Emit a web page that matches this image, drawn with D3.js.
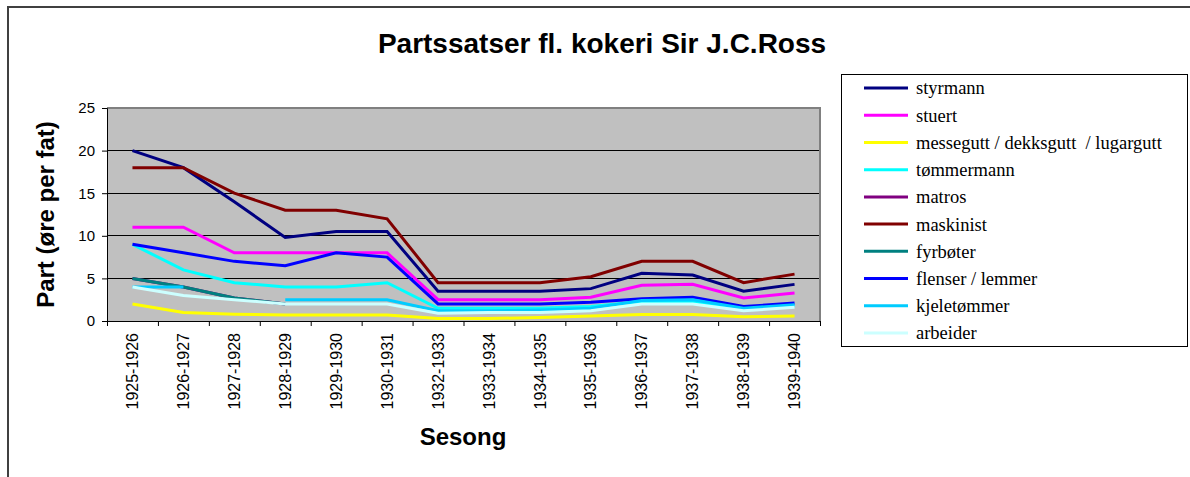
<!DOCTYPE html>
<html><head><meta charset="utf-8">
<script src="https://cdn.jsdelivr.net/npm/d3@7/dist/d3.min.js"></script>
<style>
html,body{margin:0;padding:0;background:#fff;}
svg{display:block;}
</style></head>
<body>
<svg id="chart" width="1190" height="477"></svg>
<script>
const categories = ["1925-1926","1926-1927","1927-1928","1928-1929","1929-1930","1930-1931","1932-1933","1933-1934","1934-1935","1935-1936","1936-1937","1937-1938","1938-1939","1939-1940"];
const yTicks = [0,5,10,15,20,25];
const seriesNames = ["styrmann","stuert","messegutt / dekksgutt  / lugargutt","tømmermann","matros","maskinist","fyrbøter","flenser / lemmer","kjeletømmer","arbeider"];
const styrmann    = [20,18,14,9.8,10.5,10.5,3.5,3.5,3.5,3.8,5.6,5.4,3.5,4.3];
const stuert      = [11,11,8,8,8,8,2.5,2.5,2.5,2.8,4.2,4.3,2.7,3.3];
const messegutt   = [2,1,0.8,0.7,0.7,0.7,0.3,0.3,0.4,0.6,0.75,0.75,0.5,0.6];
const tommermann  = [9,6,4.5,4,4,4.5,1.5,1.5,1.5,1.7,2.3,2.3,1.4,1.8];
const matros      = [5,4,2.7,2,null,null,null,null,null,null,null,null,null,null];
const maskinist   = [18,18,15,13,13,12,4.5,4.5,4.5,5.2,7,7,4.5,5.5];
const fyrboter    = [5,4,2.7,2,null,null,null,null,null,null,null,null,null,null];
const flenser     = [9,8,7,6.5,8,7.5,2,2,2,2.2,2.6,2.8,1.7,2.1];
const kjeletommer = [4,4,null,2.5,2.5,2.5,1.2,1.2,1.3,1.5,2.4,2.5,1.5,1.9];
const arbeider    = [4,3,2.5,2,2,2,0.9,1.0,1.0,1.2,2.0,2.0,1.2,1.6];
const seriesValues = [styrmann,stuert,messegutt,tommermann,matros,maskinist,fyrboter,flenser,kjeletommer,arbeider];
const seriesColors = ["#000080","#FF00FF","#FFFF00","#00FFFF","#800080","#800000","#008080","#0000FF","#00CCFF","#CCFFFF"];

const svg = d3.select("#chart");
const W = 1190, H = 477;
const plot = {left:107, right:820, top:108, bottom:321};
const sans = "Liberation Sans, Arial, sans-serif";

// outer frame
svg.append("path").attr("d", `M8,${H+2} L8,7 L${W+2},7`).attr("fill","none").attr("stroke","#404040").attr("stroke-width",2);

// title
svg.append("text").attr("x", 602).attr("y", 53).attr("text-anchor","middle")
  .style("font-family",sans).style("font-weight","bold").style("font-size","28px")
  .text("Partssatser fl. kokeri Sir J.C.Ross");

const x = d3.scaleBand().domain(categories).range([plot.left, plot.right]);
const xi = d3.scaleLinear().domain([0, categories.length]).range([plot.left, plot.right]);
const y = d3.scaleLinear().domain([0,25]).range([plot.bottom, plot.top]);

// plot background
svg.append("rect").attr("x", plot.left).attr("y", plot.top).attr("width", plot.right-plot.left).attr("height", plot.bottom-plot.top)
  .attr("fill","#C0C0C0");

// gridlines
svg.append("g").selectAll("line").data(yTicks.filter(d=>d>0 && d<25)).join("line")
  .attr("x1", plot.left).attr("x2", plot.right).attr("y1", d=>y(d)).attr("y2", d=>y(d))
  .attr("stroke","#000").attr("stroke-width",1).attr("shape-rendering","crispEdges");

// plot border (top/right gray)
svg.append("path").attr("d", `M${plot.left},${plot.top} L${plot.right},${plot.top} L${plot.right},${plot.bottom}`)
  .attr("fill","none").attr("stroke","#808080").attr("stroke-width",2);

// y axis
const yAxis = svg.append("g").attr("transform", `translate(${plot.left},0)`)
  .call(d3.axisLeft(y).tickValues(yTicks).tickSize(5).tickPadding(7).tickFormat(d3.format("d")));
yAxis.select(".domain").attr("stroke","#000");
yAxis.selectAll("text").style("font-family",sans).style("font-size","15px").attr("fill","#000");

// x axis ticks at boundaries
const xAxis = svg.append("g").attr("transform", `translate(0,${plot.bottom})`)
  .call(d3.axisBottom(xi).tickValues(d3.range(categories.length+1)).tickSize(5).tickFormat(""));
xAxis.select(".domain").attr("stroke","#000");

// x labels
svg.append("g").selectAll("text").data(categories).join("text")
  .attr("transform", d => `translate(${x(d)+x.bandwidth()/2},${plot.bottom+12}) rotate(-90)`)
  .attr("text-anchor","end").attr("dy","0.35em")
  .style("font-family",sans).style("font-size","16px")
  .text(d=>d);

// axis titles
svg.append("text").attr("transform", `translate(54,${(plot.top+plot.bottom)/2}) rotate(-90)`)
  .attr("text-anchor","middle")
  .style("font-family",sans).style("font-weight","bold").style("font-size","24px")
  .text("Part (øre per fat)");
svg.append("text").attr("x", 463).attr("y", 445).attr("text-anchor","middle")
  .style("font-family",sans).style("font-weight","bold").style("font-size","24px")
  .text("Sesong");

// lines
const line = d3.line().defined(d => d.v !== null).x(d => x(d.c) + x.bandwidth()/2).y(d => y(d.v));
seriesValues.forEach((vals, i) => {
  const pts = categories.map((c, j) => ({c, v: vals[j]}));
  svg.append("path").datum(pts).attr("d", line).attr("fill","none")
    .attr("stroke", seriesColors[i]).attr("stroke-width",3).attr("stroke-linejoin","miter");
});

// legend
const lg = svg.append("g");
lg.append("rect").attr("x",841.5).attr("y",74.5).attr("width",346).attr("height",272)
  .attr("fill","#fff").attr("stroke","#000").attr("stroke-width",1);
const ly = d3.scalePoint().domain(seriesNames).range([88, 333]);
seriesNames.forEach((n, i) => {
  lg.append("line").attr("x1",864).attr("x2",908).attr("y1",ly(n)).attr("y2",ly(n))
    .attr("stroke",seriesColors[i]).attr("stroke-width",3);
  lg.append("text").attr("x",916).attr("y",ly(n)).attr("dy","0.35em")
    .style("font-family","Liberation Serif, Times New Roman, serif").style("font-size","18.5px")
    .style("white-space","pre").text(n);
});
</script>
</body></html>
